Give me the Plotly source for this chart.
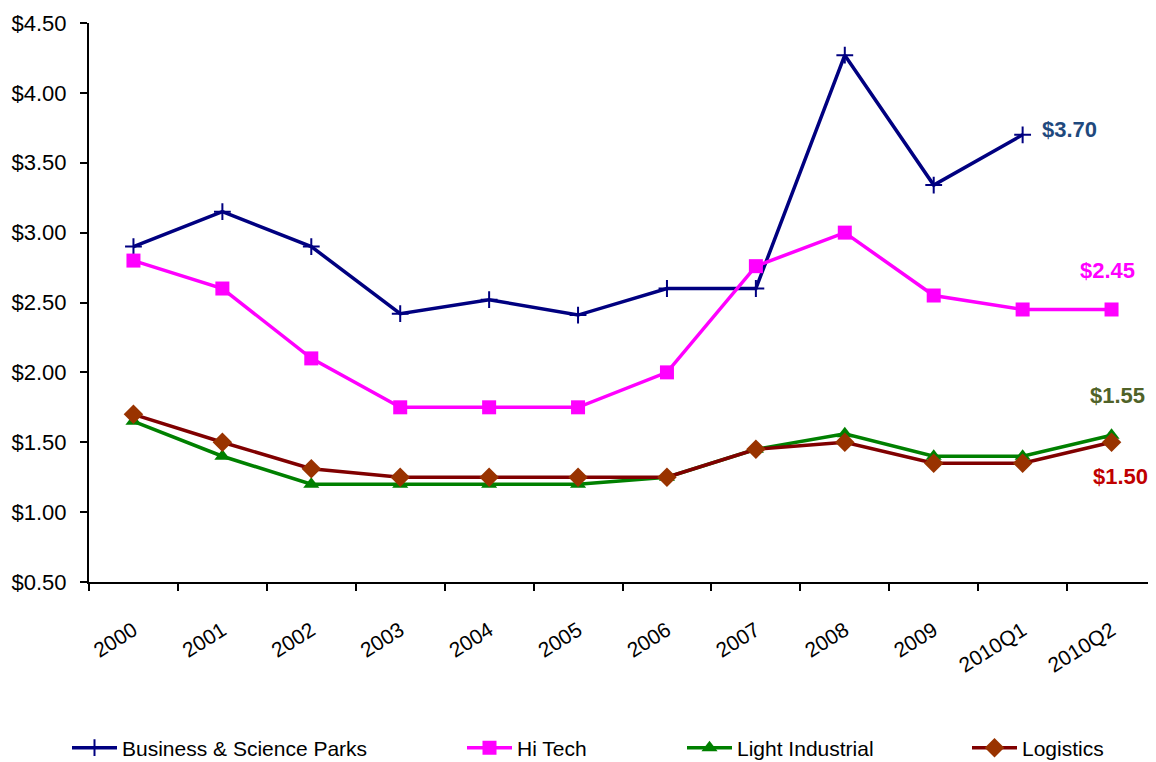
import plotly.graph_objects as go

categories = ["2000", "2001", "2002", "2003", "2004", "2005", "2006", "2007", "2008", "2009", "2010Q1", "2010Q2"]
business = [2.90, 3.15, 2.90, 2.42, 2.52, 2.41, 2.60, 2.60, 4.27, 3.34, 3.70, None]
hitech = [2.80, 2.60, 2.10, 1.75, 1.75, 1.75, 2.00, 2.76, 3.00, 2.55, 2.45, 2.45]
light = [1.65, 1.40, 1.20, 1.20, 1.20, 1.20, 1.25, 1.45, 1.56, 1.40, 1.40, 1.55]
logistics = [1.70, 1.50, 1.31, 1.25, 1.25, 1.25, 1.25, 1.45, 1.50, 1.35, 1.35, 1.50]
y_ticks = [0.5, 1.0, 1.5, 2.0, 2.5, 3.0, 3.5, 4.0, 4.5]

FONT = "Liberation Sans, Arial, sans-serif"

fig = go.Figure()
fig.add_trace(go.Scatter(x=categories, y=business, name="Business & Science Parks", mode="lines+markers",
                         line=dict(color="#000080", width=3.5),
                         marker=dict(symbol="cross-thin", size=12, line=dict(color="#000080", width=2)),
                         legend="legend"))
fig.add_trace(go.Scatter(x=categories, y=hitech, name="Hi Tech", mode="lines+markers",
                         line=dict(color="#FF00FF", width=3.5),
                         marker=dict(symbol="square", size=14, color="#FF00FF"),
                         legend="legend2"))
fig.add_trace(go.Scatter(x=categories, y=light, name="Light Industrial", mode="lines+markers",
                         line=dict(color="#008000", width=3.5),
                         marker=dict(symbol="triangle-up", size=14, color="#008000"),
                         legend="legend3"))
fig.add_trace(go.Scatter(x=categories, y=logistics, name="Logistics", mode="lines+markers",
                         line=dict(color="#800000", width=3.5),
                         marker=dict(symbol="diamond", size=15, color="#993300"),
                         legend="legend4"))

ann_font = "Liberation Sans, Arial, sans-serif"
annotations = [
    dict(x="2010Q1", y=business[10], text="<b>$3.70</b>", color="#1F497D", xshift=47, yshift=5),
    dict(x="2010Q2", y=hitech[11], text="<b>$2.45</b>", color="#FF00FF", xshift=-4, yshift=39),
    dict(x="2010Q2", y=light[11], text="<b>$1.55</b>", color="#4F6228", xshift=6, yshift=40),
    dict(x="2010Q2", y=logistics[11], text="<b>$1.50</b>", color="#C00000", xshift=9, yshift=-34),
]
for a in annotations:
    fig.add_annotation(x=a["x"], y=a["y"], text=a["text"], showarrow=False,
                       xshift=a["xshift"], yshift=a["yshift"],
                       font=dict(family=ann_font, size=22, color=a["color"]))

legend_common = dict(orientation="h", yanchor="middle", xanchor="left", y=-0.297,
                     font=dict(family=FONT, size=21, color="#000000"),
                     bgcolor="rgba(0,0,0,0)", borderwidth=0, itemwidth=45)
# figure is drawn inside an 8px page margin, so sizes are reduced accordingly
L, T, B = 81, 15, 180
W, H = 1148, 754
plot_w = W - L
def px_to_paper(px):
    return (px - 8 - L) / plot_w

fig.update_layout(
    width=W, height=H,
    margin=dict(l=L, r=0, t=T, b=B, autoexpand=False),
    paper_bgcolor="white", plot_bgcolor="white",
    font=dict(family=FONT, size=20, color="#000000"),
    showlegend=True,
    legend=dict(legend_common, x=px_to_paper(67)),
    legend2=dict(legend_common, x=px_to_paper(462)),
    legend3=dict(legend_common, x=px_to_paper(682)),
    legend4=dict(legend_common, x=px_to_paper(967)),
    xaxis=dict(type="category", categoryorder="array", categoryarray=categories,
               range=[-0.5, len(categories) - 0.5], automargin=False,
               showline=True, linecolor="#000000", linewidth=2,
               ticks="outside", tickson="boundaries", ticklen=7, tickcolor="#000000", tickwidth=1.5,
               tickangle=-32, showgrid=False, zeroline=False, ticklabelstandoff=26,
               tickfont=dict(family=FONT, size=21, color="#000000")),
    yaxis=dict(range=[0.5, 4.5], tickvals=y_ticks, ticktext=[f"${v:.2f}" for v in y_ticks],
               automargin=False,
               showline=True, linecolor="#000000", linewidth=2,
               ticks="outside", ticklen=7, tickcolor="#000000", tickwidth=1.5,
               showgrid=False, zeroline=False, ticklabelstandoff=9,
               tickfont=dict(family=FONT, size=22, color="#000000")),
)

fig.write_html("out.html")
